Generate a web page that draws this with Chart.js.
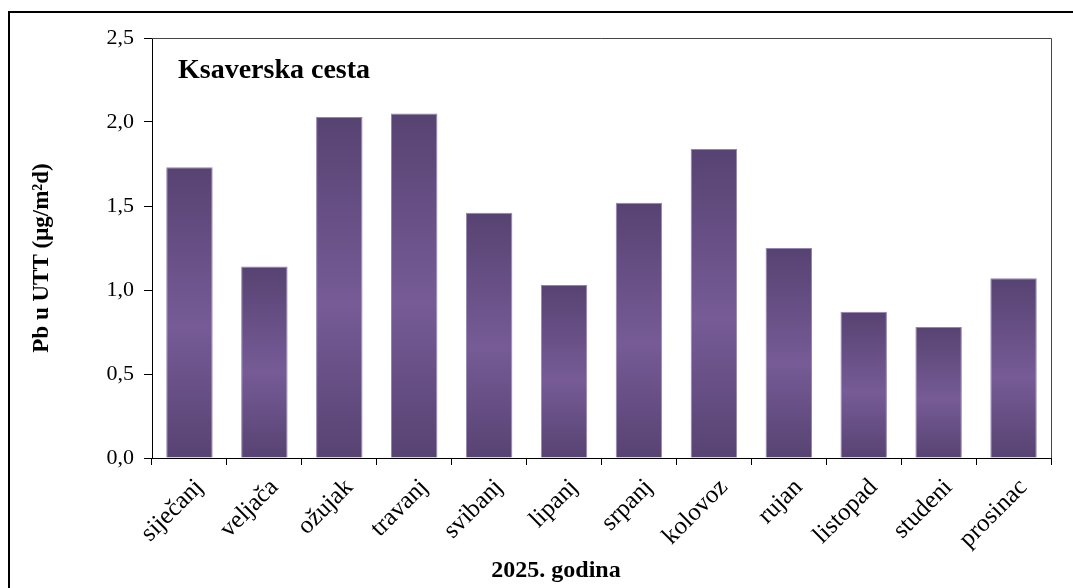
<!DOCTYPE html>
<html>
<head>
<meta charset="utf-8">
<script src="https://cdn.jsdelivr.net/npm/chart.js@4"></script>
<style>
html,body{margin:0;padding:0;background:#fff;}
#wrap{width:1073px;height:588px;position:relative;}
</style>
</head>
<body>
<div id="wrap"><canvas id="c" width="1073" height="588"></canvas></div>
<script>
const months = ['siječanj','veljača','ožujak','travanj','svibanj','lipanj','srpanj','kolovoz','rujan','listopad','studeni','prosinac'];
const pbValues = [1.73, 1.14, 2.03, 2.05, 1.46, 1.03, 1.52, 1.84, 1.25, 0.87, 0.78, 1.07];
const yTicks = [0, 0.5, 1.0, 1.5, 2.0, 2.5];
const stationName = 'Ksaverska cesta';
const yTitle = 'Pb u UTT (μg/m²d)';
const xTitle = '2025. godina';

const serif = "'Liberation Serif', 'Times New Roman', serif";

function barFill(ctx) {
  const chart = ctx.chart;
  if (!chart.chartArea || !chart.scales.y) return '#66508a';
  const y = chart.scales.y;
  const top = y.getPixelForValue(ctx.raw);
  const bottom = y.getPixelForValue(0);
  if (!isFinite(top) || !isFinite(bottom) || bottom - top < 1) return '#66508a';
  const g = chart.ctx.createLinearGradient(0, top, 0, bottom);
  g.addColorStop(0, '#574372');
  g.addColorStop(0.55, '#765b96');
  g.addColorStop(1, '#574372');
  return g;
}

const framePlugin = {
  id: 'frame',
  beforeDraw(chart) {
    const c = chart.ctx;
    c.save();
    c.fillStyle = '#fff';
    c.fillRect(0, 0, chart.width, chart.height);
    c.restore();
  },
  afterDraw(chart) {
    const c = chart.ctx;
    const a = chart.chartArea;
    c.save();
    // outer border
    c.strokeStyle = '#000';
    c.lineWidth = 2;
    c.beginPath();
    c.moveTo(9, chart.height);
    c.lineTo(9, 12);
    c.lineTo(chart.width, 12);
    c.stroke();
    // plot frame top/right
    c.strokeStyle = '#444';
    c.lineWidth = 1;
    c.beginPath();
    c.moveTo(a.left, a.top + 0.5);
    c.lineTo(a.right + 0.5, a.top + 0.5);
    c.lineTo(a.right + 0.5, a.bottom);
    c.stroke();
    // station label
    c.fillStyle = '#000';
    c.font = "bold 28px " + serif;
    c.textBaseline = 'alphabetic';
    c.textAlign = 'left';
    c.fillText(stationName, 178, 78);
    // x axis title
    c.font = "bold 24px " + serif;
    c.textAlign = 'center';
    c.fillText(xTitle, 556, 577);
    // y axis title
    c.translate(48, 258);
    c.rotate(-Math.PI / 2);
    c.font = "bold 23px " + serif;
    c.textAlign = 'center';
    c.fillText(yTitle, 0, 0);
    c.restore();
  }
};

new Chart(document.getElementById('c'), {
  type: 'bar',
  data: {
    labels: months,
    datasets: [{
      data: pbValues,
      backgroundColor: barFill,
      borderColor: '#9484b0',
      borderWidth: {left: 1, right: 1, top: 1, bottom: 0},
      barPercentage: 0.62,
      categoryPercentage: 1.0
    }]
  },
  options: {
    responsive: false,
    animation: false,
    devicePixelRatio: 1,
    layout: { padding: { left: 25, top: 38, right: 22, bottom: 0 } },
    plugins: {
      legend: { display: false },
      tooltip: { enabled: false },
      title: { display: false }
    },
    scales: {
      y: {
        min: 0, max: 2.5,
        afterBuildTicks(scale) { scale.ticks = yTicks.map(v => ({ value: v })); },
        afterFit(scale) { scale.width = 127; },
        grid: { drawOnChartArea: false, drawTicks: true, tickLength: 8, color: '#000' },
        border: { display: true, color: '#000', width: 1 },
        ticks: {
          color: '#000',
          font: { family: serif, size: 22 },
          padding: 10,
          callback: v => Number(v).toFixed(1).replace('.', ',')
        },
        title: { display: false }
      },
      x: {
        grid: { drawOnChartArea: false, drawTicks: true, tickLength: 7, color: '#000', offset: true },
        border: { display: true, color: '#000', width: 1 },
        afterFit(scale) { scale.height = 588 - 458; },
        ticks: {
          color: '#000',
          font: { family: serif, size: 25 },
          minRotation: 45, maxRotation: 45,
          padding: 8,
          labelOffset: 10,
          autoSkip: false
        },
        title: { display: false }
      }
    }
  },
  plugins: [framePlugin]
});
</script>
</body>
</html>
